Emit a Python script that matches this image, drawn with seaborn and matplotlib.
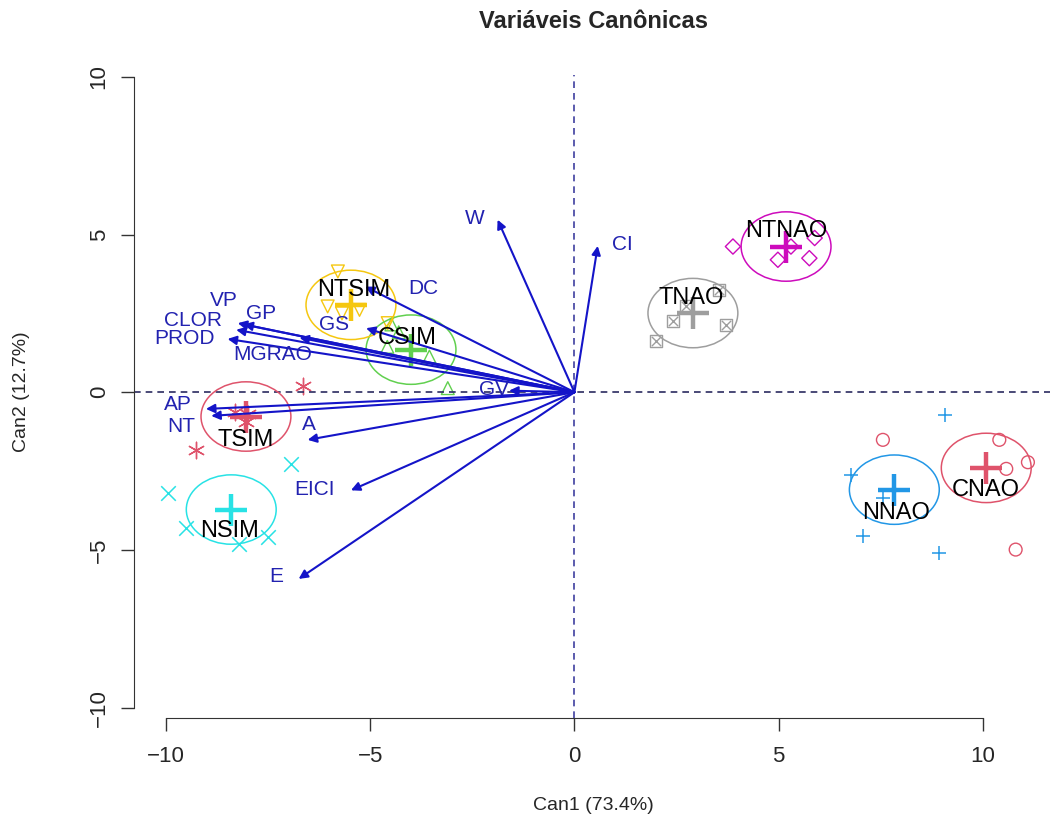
import matplotlib
matplotlib.use("Agg")
import matplotlib.pyplot as plt
from matplotlib.patches import Ellipse
import seaborn as sns
import pandas as pd

# groups, colours (R palette) and symbols
groups = ["CNAO", "CSIM", "NNAO", "NSIM", "NTNAO", "NTSIM", "TNAO", "TSIM"]
colors = ["#DF536B", "#61D04F", "#2297E6", "#28E2E5", "#CD0BBC", "#F5C710", "#9E9E9E", "#DF536B"]
markers = ["o", "^", "+", "x", "D", "v", "sx", "*"]

# canonical scores of the observations
cnao_x = [7.55, 10.40, 10.57, 11.10, 10.80]
cnao_y = [-1.51, -1.51, -2.43, -2.22, -4.99]
csim_x = [-3.55, -3.10, -4.58, -4.30, -4.48]
csim_y = [1.13, 0.13, 1.44, 1.90, 2.15]
nnao_x = [9.06, 6.77, 7.55, 7.06, 8.92]
nnao_y = [-0.71, -2.61, -3.35, -4.55, -5.10]
nsim_x = [-6.94, -9.96, -9.51, -8.20, -7.51]
nsim_y = [-2.27, -3.18, -4.31, -4.80, -4.59]
ntnao_x = [3.88, 4.98, 5.75, 5.88, 5.30]
ntnao_y = [4.62, 4.20, 4.25, 4.89, 4.62]
ntsim_x = [-5.79, -6.04, -5.26, -4.57, -5.69]
ntsim_y = [3.83, 2.72, 2.61, 2.19, 2.50]
tnao_x = [3.55, 2.41, 3.71, 2.00, 2.73]
tnao_y = [3.25, 2.25, 2.14, 1.61, 2.72]
tsim_x = [-6.65, -9.26, -8.30, -8.04, -8.00]
tsim_y = [0.21, -1.82, -0.62, -0.95, -0.70]

# group means
mean_x = [10.08, -4.00, 7.83, -8.40, 5.18, -5.47, 2.90, -8.04]
mean_y = [-2.40, 1.35, -3.09, -3.72, 4.62, 2.77, 2.51, -0.77]

# structure vectors
variables = ["W", "CI", "DC", "GS", "VP", "GP", "CLOR", "PROD", "MGRAO", "GV", "AP", "NT", "A", "EICI", "E"]
vec_x = [-1.88, 0.57, -5.12, -5.10, -8.24, -8.10, -8.28, -8.49, -6.73, -1.60, -9.02, -8.89, -6.53, -5.47, -6.75]
vec_y = [5.47, 4.64, 3.35, 2.03, 2.19, 2.15, 1.98, 1.69, 1.73, 0.05, -0.53, -0.75, -1.51, -3.11, -5.92]

all_x = [cnao_x, csim_x, nnao_x, nsim_x, ntnao_x, ntsim_x, tnao_x, tsim_x]
all_y = [cnao_y, csim_y, nnao_y, nsim_y, ntnao_y, ntsim_y, tnao_y, tsim_y]
rows = []
for g, xs, ys in zip(groups, all_x, all_y):
    for a, b in zip(xs, ys):
        rows.append({"grupo": g, "Can1": a, "Can2": b})
scores = pd.DataFrame(rows)
means = pd.DataFrame({"grupo": groups, "Can1": mean_x, "Can2": mean_y})

sns.set_style("ticks")
plt.rcParams["font.family"] = ["Liberation Sans", "DejaVu Sans"]

fig = plt.figure(figsize=(10.56, 8.23), dpi=100)
ax = fig.add_axes([0.1269, 0.1276, 0.8674, 0.7813])

# group label positions (layout only)
glab_x = [10.08, -4.08, 7.87, -8.45, 5.18, -5.39, 2.86, -8.04]
glab_y = [-3.09, 1.72, -3.83, -4.41, 5.10, 3.25, 2.99, -1.51]
radius = 1.1

for i, g in enumerate(groups):
    d = scores[scores["grupo"] == g]
    c = colors[i]
    m = markers[i]
    if m == "sx":
        sns.scatterplot(data=d, x="Can1", y="Can2", marker="s", s=75,
                        facecolors="none", edgecolors=c, linewidth=1.0, ax=ax, legend=False)
        sns.scatterplot(data=d, x="Can1", y="Can2", marker="x", s=45,
                        color=c, linewidth=1.0, ax=ax, legend=False)
    elif m in ("+", "x"):
        sns.scatterplot(data=d, x="Can1", y="Can2", marker=m, s=110,
                        color=c, linewidth=1.1, ax=ax, legend=False)
    elif m == "*":
        sns.scatterplot(data=d, x="Can1", y="Can2", marker=(6, 2, 0), s=140,
                        color=c, linewidth=1.0, ax=ax, legend=False)
    else:
        sz = 60 if m == "D" else 85
        sns.scatterplot(data=d, x="Can1", y="Can2", marker=m, s=sz,
                        facecolors="none", edgecolors=c, linewidth=1.0, ax=ax, legend=False)

    md = means[means["grupo"] == g]
    sns.scatterplot(data=md, x="Can1", y="Can2", marker="+", s=520,
                    color=c, linewidth=3.2, ax=ax, legend=False, zorder=4)
    ax.add_patch(Ellipse((mean_x[i], mean_y[i]), 2 * radius, 2 * radius,
                         fill=False, edgecolor=c, lw=1.1, zorder=3))
    ax.text(glab_x[i], glab_y[i], g, ha="center", va="center",
            fontsize=17, color="black", zorder=6)

ax.axhline(0, color="#2b2b60", lw=1.2, ls=(0, (4, 3)), zorder=1)
ax.axvline(0, color="#4040a0", lw=1.2, ls=(0, (4, 3)), zorder=1)

# vector label positions (layout only)
vlab_x = [-2.45, 1.18, -3.71, -5.88, -8.57, -7.67, -9.34, -9.55, -7.39, -1.96, -9.71, -9.63, -6.49, -6.36, -7.30]
vlab_y = [5.52, 4.68, 3.30, 2.14, 2.92, 2.51, 2.29, 1.70, 1.19, 0.08, -0.40, -1.09, -1.03, -3.07, -5.84]
arrow_col = "#1414c8"
for v, vx, vy, lx, ly in zip(variables, vec_x, vec_y, vlab_x, vlab_y):
    ax.annotate("", xy=(vx, vy), xytext=(0, 0),
                arrowprops=dict(arrowstyle="-|>", color=arrow_col, lw=1.5,
                                shrinkA=0, shrinkB=0, mutation_scale=13),
                zorder=5)
    ax.text(lx, ly, v, ha="center", va="center", fontsize=15,
            color="#2222b0", zorder=6)

ax.set_xlim(-10.78, 11.64)
ax.set_ylim(-10.33, 10.06)
ax.set_xticks([-10, -5, 0, 5, 10])
ax.set_yticks([-10, -5, 0, 5, 10])
ax.set_xticklabels(["\u221210", "\u22125", "0", "5", "10"])
ax.set_yticklabels(["\u221210", "\u22125", "0", "5", "10"], rotation=90, va="center")
ax.tick_params(axis="both", length=9.5, width=1.0, labelsize=16,
               direction="out", color="#333333")
ax.tick_params(axis="x", pad=11)
ax.tick_params(axis="y", pad=8)
ax.spines["top"].set_visible(False)
ax.spines["right"].set_visible(False)
ax.spines["left"].set_bounds(-10, 10)
ax.spines["bottom"].set_bounds(-10, 10)
ax.spines["left"].set_color("#333333")
ax.spines["bottom"].set_color("#333333")
ax.set_xlabel("")
ax.set_ylabel("")

fig.text(593.5 / 1056, 1 - 805 / 823, "Can1 (73.4%)", ha="center", va="center", fontsize=14)
fig.text(22 / 1056, 1 - 392 / 823, "Can2 (12.7%)", ha="center", va="center",
         fontsize=14, rotation=90)
fig.text(593.5 / 1056, 1 - 22 / 823, "Variáveis Canônicas", ha="center", va="center",
         fontsize=17, fontweight="bold")

fig.savefig("out.png", dpi=100)
